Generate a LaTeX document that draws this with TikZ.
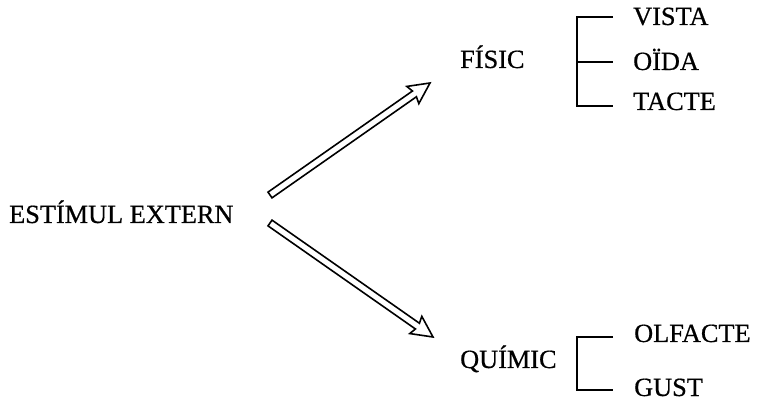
\documentclass[tikz,border=0pt]{standalone}
\usepackage{fontspec}
\setmainfont{Liberation Serif}
\newfontfamily\lblfont[FakeBold=0.6]{Liberation Serif}
\usetikzlibrary{calc}
\newcommand\hollowarrow[2]{%
  \draw[bigarrow] let \p1=($(#2)-(#1)$), \n1={atan2(\y1,\x1)}, \n2={veclen(\x1,\y1)} in
    {[shift={(#1)}, rotate=\n1]
     (0pt,-3.5pt) -- ({\n2-19pt},-3.5pt) -- ({\n2-21pt},-10.5pt) -- ({\n2},0pt)
     -- ({\n2-21pt},10.5pt) -- ({\n2-19pt},3.5pt) -- (0pt,3.5pt) -- cycle};}
\begin{document}
\begin{tikzpicture}[x=1pt,y=1pt,
  lbl/.style={anchor=base west, inner sep=0pt, font=\lblfont\fontsize{26.3}{30}\selectfont},
  brk/.style={line width=1.7pt},
  bigarrow/.style={line width=1.6pt, line join=miter, fill=white}]
\useasboundingbox (0,0) rectangle (759,401);
% labels
\node[lbl] (est) at (9,178) {ESTÍMUL EXTERN};
\node[lbl] (fis) at (460,333) {FÍSIC};
\node[lbl] (qui) at (460,33) {QUÍMIC};
\node[lbl] (vis) at (633,376) {VISTA};
\node[lbl] (oid) at (633,331) {OÏDA};
\node[lbl] (tac) at (633,291) {TACTE};
\node[lbl] (olf) at (634,59) {OLFACTE};
\node[lbl] (gus) at (634,5) {GUST};
% arrow ends
\coordinate (a1t) at (270,206);
\coordinate (a1h) at (430,318);
\coordinate (a2t) at (270,178);
\coordinate (a2h) at (433,64);
\hollowarrow{a1t}{a1h}
\hollowarrow{a2t}{a2h}
% brackets
\coordinate (b1a) at (613,384);
\coordinate (b1m) at (613,339);
\coordinate (b1b) at (613,295);
\coordinate (b1x) at (577,339);
\draw[brk] (b1a) -| (b1x) |- (b1b);
\draw[brk] (b1x) -- (b1m);
\coordinate (b2a) at (613,64);
\coordinate (b2b) at (613,11);
\coordinate (b2x) at (577,40);
\draw[brk] (b2a) -| (b2x) |- (b2b);
\end{tikzpicture}
\end{document}
